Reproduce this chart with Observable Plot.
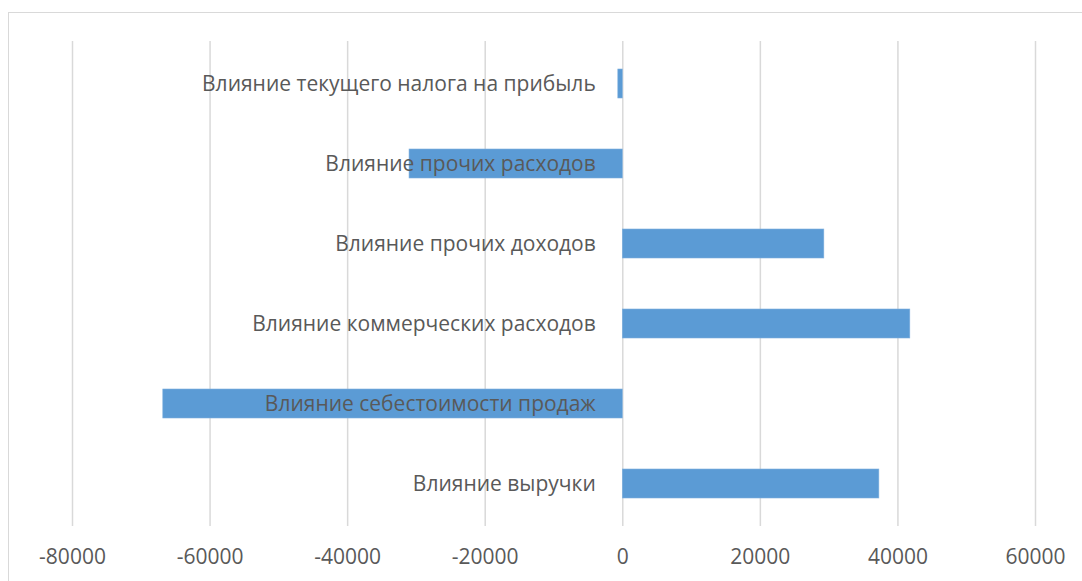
<!DOCTYPE html>
<html>
<head>
<meta charset="utf-8">
<script src="https://cdn.jsdelivr.net/npm/d3@7"></script>
<script src="https://cdn.jsdelivr.net/npm/@observablehq/plot@0.6"></script>
<style>
  html, body { margin: 0; padding: 0; background: #fff; overflow: hidden; }
  #wrap { position: relative; width: 1082px; height: 581px; }
  #frame { position: absolute; left: 8px; top: 12px; width: 1100px; height: 620px; border: 1.5px solid #d9d9d9; box-sizing: border-box; }
  #chart { position: absolute; left: 0; top: 0; }
</style>
</head>
<body>
<div id="wrap"><div id="frame"></div><div id="chart"></div></div>
<script>
const categories = [
  "Влияние текущего налога на прибыль",
  "Влияние прочих расходов",
  "Влияние прочих доходов",
  "Влияние коммерческих расходов",
  "Влияние себестоимости продаж",
  "Влияние выручки"
];
const values = [-650, -31000, 29300, 41800, -66800, 37300];
const xTicks = [-80000, -60000, -40000, -20000, 0, 20000, 40000, 60000];

const data = categories.map((c, i) => ({name: c, value: values[i]}));

const chart = Plot.plot({
  width: 1082,
  height: 581,
  marginTop: 41,
  marginBottom: 55,
  marginLeft: 72,
  marginRight: 47,
  style: {fontFamily: "'Open Sans', sans-serif", fontSize: "21px", color: "#595959", background: "transparent"},
  x: {domain: [-80000, 60000], ticks: xTicks, tickFormat: d => String(d), label: null},
  y: {domain: categories, paddingInner: 0.64, paddingOuter: 0.32, axis: null},
  marks: [
    Plot.ruleX(xTicks, {stroke: "#d9d9d9", strokeWidth: 1.5}),
    Plot.barX(data, {x: "value", y: "name", fill: "#5b9bd5", stroke: "#7fb0de", strokeWidth: 0.6}),
    Plot.text(data, {x: () => 0, y: "name", text: "name", textAnchor: "end", dx: -27, fill: "#595959", fontSize: 21}),
    Plot.axisX({ticks: xTicks, tickFormat: d => String(d), tickSize: 0, tickPadding: 23, label: null, fill: "#595959", fontSize: 21})
  ]
});
document.getElementById("chart").appendChild(chart);
</script>
</body>
</html>
